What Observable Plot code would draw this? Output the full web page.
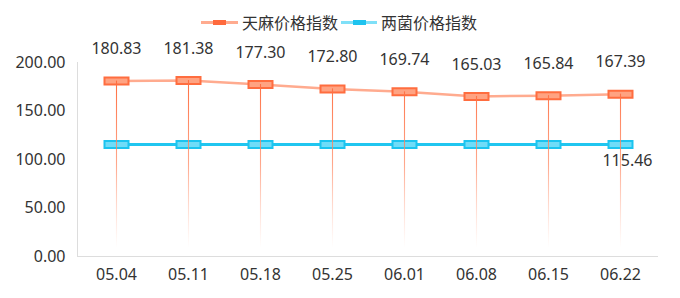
<!DOCTYPE html>
<html><head><meta charset="utf-8">
<script src="https://cdn.jsdelivr.net/npm/d3@7"></script>
<script src="https://cdn.jsdelivr.net/npm/@observablehq/plot@0.6"></script>
<style>
body{margin:0;background:#fff;}
#wrap{position:relative;width:680px;height:298px;font-family:"Noto Sans CJK SC","Noto Sans",sans-serif;}
.lg{position:absolute;}
.lgtext{position:absolute;top:11px;font-size:16px;line-height:22px;color:#333;white-space:nowrap;}
</style>
</head><body>
<div id="wrap">
  <div class="lg" style="left:201px;top:20.5px;width:37px;height:3px;background:#ffab8f"></div>
  <div class="lg" style="left:213px;top:19.5px;width:13px;height:5px;background:#ff6a3d"></div>
  <div class="lgtext" style="left:242px">天麻价格指数</div>
  <div class="lg" style="left:341px;top:20.5px;width:36px;height:3px;background:#7fe0f8"></div>
  <div class="lg" style="left:353px;top:19.5px;width:13px;height:5px;background:#1ec3ef"></div>
  <div class="lgtext" style="left:381px">两菌价格指数</div>
</div>
<script>
const dates = ["05.04","05.11","05.18","05.25","06.01","06.08","06.15","06.22"];
const tianma = [180.83,181.38,177.30,172.80,169.74,165.03,165.84,167.39];
const liangjun = [115.46,115.46,115.46,115.46,115.46,115.46,115.46,115.46];
const yTicks = [0,50,100,150,200];

const rows = dates.map((d,i)=>({date:d, tianma:tianma[i], liangjun:liangjun[i]}));
const rectSym = {draw(ctx){ctx.rect(-12,-3.5,24,7);}};

const defsMark = (index, scales, values, dims) => {
  const g = d3.create("svg:g");
  const grad = g.append("defs").append("linearGradient")
    .attr("id","vgrad").attr("gradientUnits","userSpaceOnUse")
    .attr("x1",0).attr("x2",0)
    .attr("y1",scales.y(182)).attr("y2",scales.y(0)-8);
  grad.append("stop").attr("offset",0).attr("stop-color","#ff6d3f").attr("stop-opacity",1);
  grad.append("stop").attr("offset",0.5).attr("stop-color","#ff8a65").attr("stop-opacity",0.75);
  grad.append("stop").attr("offset",1).attr("stop-color","#ffb199").attr("stop-opacity",0);
  g.append("line")
    .attr("x1",dims.marginLeft+0.5).attr("x2",dims.marginLeft+0.5)
    .attr("y1",dims.marginTop).attr("y2",dims.height-dims.marginBottom)
    .attr("stroke","#dddddd");
  return g.node();
};

const numFont = '"Noto Sans","Open Sans",sans-serif';
const plot = Plot.plot({
  width:680, height:298,
  marginLeft:77, marginRight:22, marginTop:62, marginBottom:42,
  style:{fontFamily:numFont, background:"#fff"},
  x:{type:"point", domain:dates, padding:0.5, label:null},
  y:{domain:[0,200], label:null},
  marks:[
    defsMark,
    Plot.ruleY([0],{stroke:"#dddddd"}),
    Plot.axisY({ticks:yTicks, tickFormat:d=>d.toFixed(2), tickSize:0, tickPadding:12, fontSize:16, fill:"#333", label:null}),
    Plot.axisX({tickSize:0, tickPadding:12, fontSize:16, fill:"#333", label:null}),
    Plot.line(rows,{x:"date", y:"tianma", stroke:"#ffab8f", strokeWidth:2.5}),
    Plot.line(rows,{x:"date", y:"liangjun", stroke:"#20c6f0", strokeWidth:3}),
    Plot.dot(rows,{x:"date", y:"tianma", symbol:rectSym, fill:"#ffa382", stroke:"#ff6d3f", strokeWidth:2}),
    Plot.dot(rows,{x:"date", y:"liangjun", symbol:rectSym, fill:"#6fdcf8", stroke:"#1bc4ef", strokeWidth:2}),
    Plot.ruleX(rows,{x:"date", y1:"tianma", y2:0, stroke:"url(#vgrad)", strokeWidth:1.1}),
    Plot.text(rows,{x:"date", y:"tianma", text:d=>d.tianma.toFixed(2), dy:-32, fontSize:16, fill:"#333"}),
    Plot.text([rows[rows.length-1]],{x:"date", y:"liangjun", text:d=>d.liangjun.toFixed(2), dy:16, dx:7, fontSize:16, fill:"#333"})
  ]
});
plot.style.position="absolute"; plot.style.left="0"; plot.style.top="0";
document.getElementById("wrap").prepend(plot);
</script>
</body></html>
